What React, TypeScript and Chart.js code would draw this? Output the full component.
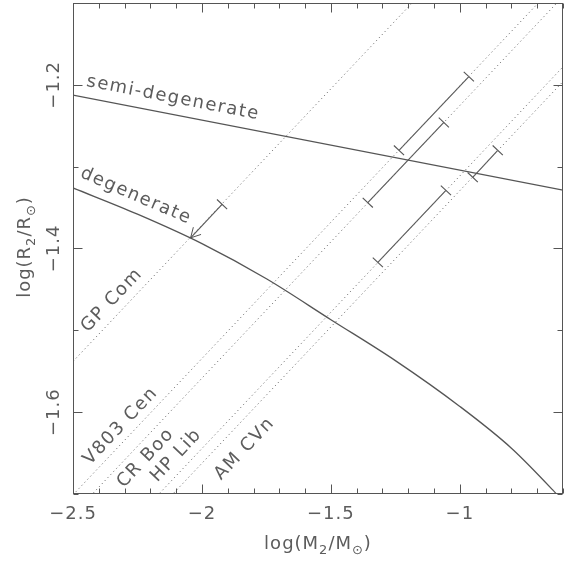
import React, { useEffect, useRef } from 'react';
import { Chart, registerables } from 'chart.js';

Chart.register(...registerables);

// ---- data ----
// semi-degenerate mass-radius relation (straight line)
const semiX = [-2.5, -0.6];
const semiY = [-1.2125, -1.3287];

// degenerate mass-radius relation
const degX = [-2.5, -2.25, -2.0, -1.75, -1.5, -1.25, -1.0, -0.8, -0.64, -0.6];
const degY = [-1.326, -1.358, -1.394, -1.437, -1.487, -1.537, -1.593, -1.644, -1.695, -1.709];

// period lines (dotted), values at x = -2.5 and x = -0.6
const systems = ['GP Com', 'V803 Cen', 'CR Boo', 'HP Lib', 'AM CVn'];
const periodX = [-2.5, -0.6];
const periodYLeft = [-1.538, -1.701, -1.725, -1.811, -1.829];
const periodYRight = [-0.905, -1.068, -1.092, -1.178, -1.196];

// allowed mass ranges (solid segments with end caps)
const rangeSystems = ['V803 Cen', 'CR Boo', 'HP Lib', 'AM CVn'];
const rangeXLow = [-1.236, -1.357, -1.318, -0.95];
const rangeXHigh = [-0.965, -1.062, -1.054, -0.853];
const rangeYLow = [-1.28, -1.344, -1.417, -1.313];
const rangeYHigh = [-1.19, -1.246, -1.329, -1.28];

// GP Com upper limit (arrow)
const limitX = [-1.922, -2.044];
const limitY = [-1.346, -1.387];

// axis ticks
const xTicks = [-2.5, -2, -1.5, -1];
const yTicks = [-1.6, -1.4, -1.2];

// text annotations (anchor in data units, angle in degrees)
const labelText = ['semi-degenerate', 'degenerate', 'GP Com', 'V803 Cen', 'CR Boo', 'HP Lib', 'AM CVn'];
const labelX = [-2.112, -2.256, -2.349, -2.315, -2.218, -2.0995, -1.834];
const labelY = [-1.2162, -1.336, -1.4633, -1.617, -1.656, -1.653, -1.6447];
const labelAngle = [11, 23.3, -46.6, -46.6, -46.6, -46.6, -46.6];

// ---- styles ----
const FONT = '"DejaVu Sans", sans-serif';
const LINE = '#555';
const DOT = '#777';
const TEXT = '#5c5c5c';

const fmt = (v: number) => (v < 0 ? '\u2212' : '') + String(Math.abs(v));

function drawSubText(ctx: CanvasRenderingContext2D, parts: [string, boolean][], cx: number, cy: number, rot: number) {
  ctx.save();
  ctx.translate(cx, cy);
  ctx.rotate(rot);
  (ctx as any).letterSpacing = '1px';
  const main = `18px ${FONT}`;
  const sub = `13px ${FONT}`;
  let total = 0;
  const widths = parts.map(([t, s]) => {
    ctx.font = s ? sub : main;
    const w = ctx.measureText(t).width;
    total += w;
    return w;
  });
  let x = -total / 2;
  ctx.textAlign = 'left';
  ctx.textBaseline = 'alphabetic';
  ctx.fillStyle = TEXT;
  parts.forEach(([t, s], i) => {
    ctx.font = s ? sub : main;
    ctx.fillText(t, x, s ? 5 : 0);
    x += widths[i];
  });
  ctx.restore();
}

const decor = {
  id: 'decor',
  beforeUpdate(chart: any) {
    chart.ctx.letterSpacing = '1px';
  },
  beforeDraw(chart: any) {
    const ctx = chart.ctx;
    ctx.save();
    ctx.fillStyle = '#fff';
    ctx.fillRect(0, 0, chart.width, chart.height);
    ctx.restore();
    ctx.letterSpacing = '1px';
  },
  afterDatasetsDraw(chart: any) {
    const { ctx, chartArea: a, scales } = chart;
    const xs = scales.x;
    const ys = scales.y;
    ctx.save();
    // frame
    ctx.strokeStyle = LINE;
    ctx.lineWidth = 1;
    const L = Math.round(a.left) + 0.5;
    const R = Math.round(a.right) - 0.5;
    const T = Math.round(a.top) + 0.5;
    const B = Math.round(a.bottom) - 0.5;
    ctx.strokeRect(L, T, R - L, B - T);
    // inner ticks
    ctx.beginPath();
    for (let i = -25; i <= -6; i++) {
      const px = Math.round(xs.getPixelForValue(i / 10)) + 0.5;
      const len = i % 5 === 0 ? 9 : 5;
      ctx.moveTo(px, B);
      ctx.lineTo(px, B - len);
      ctx.moveTo(px, T);
      ctx.lineTo(px, T + len);
    }
    for (let i = -17; i <= -11; i++) {
      const py = Math.round(ys.getPixelForValue(i / 10)) + 0.5;
      const len = i % 2 === 0 ? 9 : 5;
      ctx.moveTo(L, py);
      ctx.lineTo(L + len, py);
      ctx.moveTo(R, py);
      ctx.lineTo(R - len, py);
    }
    ctx.stroke();

    // arrowhead for upper limit
    const idx = chart.data.datasets.findIndex((d: any) => d.label === 'GP Com limit');
    const meta = chart.getDatasetMeta(idx);
    if (meta && meta.data.length > 1) {
      const p0 = meta.data[0];
      const p1 = meta.data[meta.data.length - 1];
      const ang = Math.atan2(p0.y - p1.y, p0.x - p1.x);
      const len = 11;
      ctx.beginPath();
      ctx.moveTo(p1.x + Math.cos(ang + 0.5) * len, p1.y + Math.sin(ang + 0.5) * len);
      ctx.lineTo(p1.x, p1.y);
      ctx.lineTo(p1.x + Math.cos(ang - 0.5) * len, p1.y + Math.sin(ang - 0.5) * len);
      ctx.stroke();
    }

    // labels
    ctx.fillStyle = TEXT;
    ctx.font = `18px ${FONT}`;
    ctx.letterSpacing = '1.5px';
    ctx.textAlign = 'center';
    ctx.textBaseline = 'middle';
    labelText.forEach((t, i) => {
      const px = xs.getPixelForValue(labelX[i]);
      const py = ys.getPixelForValue(labelY[i]);
      ctx.save();
      ctx.translate(px, py);
      ctx.rotate((labelAngle[i] * Math.PI) / 180);
      ctx.fillText(t, 0, 0);
      ctx.restore();
    });
    ctx.restore();

    // axis titles
    drawSubText(ctx, [['log(M', false], ['2', true], ['/M', false], ['\u2299', true], [')', false]], (a.left + a.right) / 2, 549, 0);
    drawSubText(ctx, [['log(R', false], ['2', true], ['/R', false], ['\u2299', true], [')', false]], 30, 247, -Math.PI / 2);
  },
};

export default function App() {
  const ref = useRef<HTMLCanvasElement>(null);
  useEffect(() => {
    document.body.style.margin = '0';
    const canvas = ref.current!;
    const datasets: any[] = [];
    datasets.push({
      label: 'semi-degenerate',
      data: semiX.map((x, i) => ({ x, y: semiY[i] })),
      showLine: true,
      borderColor: LINE,
      borderWidth: 1.3,
      pointRadius: 0,
    });
    datasets.push({
      label: 'degenerate',
      data: degX.map((x, i) => ({ x, y: degY[i] })),
      showLine: true,
      borderColor: LINE,
      borderWidth: 1.3,
      pointRadius: 0,
      cubicInterpolationMode: 'monotone',
    });
    systems.forEach((s, i) => {
      datasets.push({
        label: s + ' period',
        data: [
          { x: periodX[0], y: periodYLeft[i] },
          { x: periodX[1], y: periodYRight[i] },
        ],
        showLine: true,
        borderColor: DOT,
        borderWidth: 1,
        borderDash: [1.2, 3],
        pointRadius: 0,
      });
    });
    rangeSystems.forEach((s, i) => {
      datasets.push({
        label: s + ' mass range',
        data: [
          { x: rangeXLow[i], y: rangeYLow[i] },
          { x: rangeXHigh[i], y: rangeYHigh[i] },
        ],
        showLine: true,
        borderColor: LINE,
        borderWidth: 1.1,
        pointStyle: 'line',
        pointRadius: 7,
        pointRotation: 43.4,
        pointBorderColor: LINE,
        pointBorderWidth: 1.1,
        pointBackgroundColor: LINE,
      });
    });
    datasets.push({
      label: 'GP Com limit',
      data: limitX.map((x, i) => ({ x, y: limitY[i] })),
      showLine: true,
      borderColor: LINE,
      borderWidth: 1.1,
      pointStyle: 'line',
      pointRadius: [7, 0],
      pointRotation: 43.4,
      pointBorderColor: LINE,
      pointBorderWidth: 1.1,
    });

    const chart = new Chart(canvas, {
      type: 'scatter',
      data: { datasets },
      options: {
        responsive: false,
        animation: false,
        devicePixelRatio: 1,
        events: [],
        layout: { autoPadding: false, padding: { left: 0, top: 3, right: 1, bottom: 0 } },
        plugins: { legend: { display: false }, tooltip: { enabled: false } },
        scales: {
          x: {
            type: 'linear',
            min: -2.5,
            max: -0.6,
            grid: { display: false },
            border: { display: false },
            afterBuildTicks: (s: any) => {
              s.ticks = xTicks.map((v) => ({ value: v }));
            },
            afterFit: (s: any) => {
              s.height = 76;
              s.paddingLeft = 0;
              s.paddingRight = 0;
              s.paddingTop = 0;
              s.paddingBottom = 0;
            },
            ticks: {
              callback: (v: any) => fmt(Number(v)),
              font: { family: FONT, size: 18 },
              color: TEXT,
              padding: 2,
              maxRotation: 0,
              autoSkip: false,
            },
          },
          y: {
            type: 'linear',
            min: -1.7,
            max: -1.1,
            grid: { display: false },
            border: { display: false },
            afterBuildTicks: (s: any) => {
              s.ticks = yTicks.map((v) => ({ value: v }));
            },
            afterFit: (s: any) => {
              s.width = 73;
              s.paddingLeft = 0;
              s.paddingRight = 0;
              s.paddingTop = 0;
              s.paddingBottom = 0;
            },
            ticks: {
              callback: (v: any) => fmt(Number(v)),
              font: { family: FONT, size: 18 },
              color: TEXT,
              padding: -13,
              minRotation: 90,
              maxRotation: 90,
              crossAlign: 'center',
              autoSkip: false,
            },
          },
        },
      } as any,
      plugins: [decor],
    });
    return () => chart.destroy();
  }, []);
  return (
    <div style={{ width: 564, height: 570 }}>
      <canvas ref={ref} width={564} height={570} style={{ display: 'block' }} />
    </div>
  );
}
